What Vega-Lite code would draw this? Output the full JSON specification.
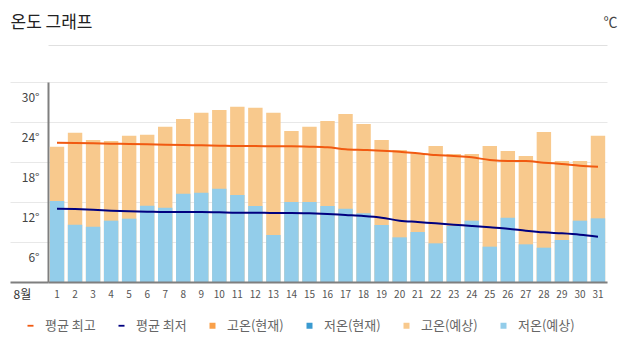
{
  "$schema": "https://vega.github.io/schema/vega-lite/v6.json",
  "width": 559,
  "height": 200,
  "autosize": {"type": "none"},
  "padding": {"left": 48, "top": 82, "right": 22, "bottom": 74},
  "background": "white",
  "config": {"font": "Noto Sans CJK KR", "view": {"stroke": null}},
  "data": {"values": [
    {"day": 1, "high": 20.3, "low": 12.15, "ah": 20.9, "al": 11.0},
    {"day": 2, "high": 22.4, "low": 8.6, "ah": 20.85, "al": 10.95},
    {"day": 3, "high": 21.3, "low": 8.3, "ah": 20.8, "al": 10.85},
    {"day": 4, "high": 21.15, "low": 9.2, "ah": 20.75, "al": 10.7},
    {"day": 5, "high": 21.95, "low": 9.5, "ah": 20.7, "al": 10.6},
    {"day": 6, "high": 22.1, "low": 11.45, "ah": 20.65, "al": 10.55},
    {"day": 7, "high": 23.3, "low": 11.15, "ah": 20.6, "al": 10.5},
    {"day": 8, "high": 24.45, "low": 13.25, "ah": 20.55, "al": 10.5},
    {"day": 9, "high": 25.4, "low": 13.4, "ah": 20.5, "al": 10.5},
    {"day": 10, "high": 25.8, "low": 14.0, "ah": 20.45, "al": 10.45},
    {"day": 11, "high": 26.3, "low": 13.05, "ah": 20.4, "al": 10.4},
    {"day": 12, "high": 26.15, "low": 11.4, "ah": 20.4, "al": 10.4},
    {"day": 13, "high": 25.4, "low": 7.05, "ah": 20.35, "al": 10.35},
    {"day": 14, "high": 22.65, "low": 12.0, "ah": 20.35, "al": 10.35},
    {"day": 15, "high": 23.3, "low": 12.0, "ah": 20.3, "al": 10.3},
    {"day": 16, "high": 24.15, "low": 11.4, "ah": 20.2, "al": 10.2},
    {"day": 17, "high": 25.2, "low": 11.0, "ah": 19.9, "al": 10.05},
    {"day": 18, "high": 23.7, "low": 10.3, "ah": 19.8, "al": 9.9},
    {"day": 19, "high": 21.3, "low": 8.55, "ah": 19.7, "al": 9.65},
    {"day": 20, "high": 19.8, "low": 6.7, "ah": 19.55, "al": 9.2},
    {"day": 21, "high": 19.3, "low": 7.5, "ah": 19.3, "al": 9.0},
    {"day": 22, "high": 20.4, "low": 5.8, "ah": 19.05, "al": 8.8},
    {"day": 23, "high": 19.2, "low": 8.4, "ah": 18.9, "al": 8.6},
    {"day": 24, "high": 19.2, "low": 9.2, "ah": 18.7, "al": 8.4},
    {"day": 25, "high": 20.4, "low": 5.3, "ah": 18.3, "al": 8.2},
    {"day": 26, "high": 19.65, "low": 9.65, "ah": 18.15, "al": 8.0},
    {"day": 27, "high": 18.9, "low": 5.65, "ah": 18.15, "al": 7.7},
    {"day": 28, "high": 22.5, "low": 5.15, "ah": 17.9, "al": 7.45},
    {"day": 29, "high": 18.15, "low": 6.3, "ah": 17.7, "al": 7.3},
    {"day": 30, "high": 18.15, "low": 9.2, "ah": 17.45, "al": 7.1},
    {"day": 31, "high": 21.95, "low": 9.55, "ah": 17.3, "al": 6.8}
  ]},
  "resolve": {"axis": {"x": "independent"}},
  "layer": [
    {
      "mark": {"type": "bar"},
      "encoding": {
        "x": {"field": "day", "type": "ordinal",
          "scale": {"paddingInner": 0.2, "paddingOuter": 0.1},
          "axis": {"title": "8월", "titleX": -35, "titleY": 12, "titleAlign": "left", "titleBaseline": "middle",
            "titleFontSize": 12, "titleFontWeight": "normal", "titleColor": "#333",
            "labelAngle": 0, "labelFontSize": 10, "labelColor": "#555", "labelPadding": 7,
            "ticks": false, "grid": false, "domainColor": "#7f7f7f", "domainWidth": 2, "zindex": 1}},
        "y": {"field": "high", "type": "quantitative",
          "scale": {"domain": [0, 30], "nice": false},
          "axis": {"title": "온도 그래프", "titleAngle": 0, "titleX": -38, "titleY": -60, "titleAlign": "left", "titleBaseline": "middle",
            "titleFontSize": 17, "titleFontWeight": "normal", "titleColor": "#222",
            "values": [0, 6, 12, 18, 24, 30], "tickCount": 20,
            "labelExpr": "datum.value === 0 ? '' : datum.value + '°'",
            "labelOverlap": false, "labelBound": false, "labelFlush": false,
            "labelOffset": 15, "labelPadding": -29, "labelFontSize": 12, "labelColor": "#444",
            "tickSize": 38,
            "tickColor": {"condition": {"test": "datum.value === 0", "value": "#7f7f7f"}, "value": "#e8e8e8"},
            "tickWidth": {"condition": {"test": "datum.value === 0", "value": 2}, "value": 1},
            "grid": true, "gridColor": "#e8e8e8",
            "domainColor": "#7f7f7f", "domainWidth": 2}},
        "color": {"datum": "고온(예상)", "type": "nominal",
          "scale": {"domain": ["평균 최고", "평균 최저", "고온(현재)", "저온(현재)", "고온(예상)", "저온(예상)"],
            "range": ["#f15a11", "#000080", "#f9a04a", "#3a9ad0", "#f8c98d", "#93cdea"]},
          "legend": {"orient": "none", "legendX": -24, "legendY": 237, "direction": "horizontal", "title": null,
            "padding": 0, "columnPadding": 19, "labelFontSize": 13, "labelColor": "#666",
            "symbolSize": 36, "labelOffset": 8, "symbolType": "square", "symbolStrokeWidth": 0,
            "encode": {"symbols": {"update": {"shape": {"signal": "indexof(['평균 최고','평균 최저'], datum.value) >= 0 ? 'M-1,-0.3H1V0.3H-1Z' : 'square'"}}}}}}
      }
    },
    {
      "mark": {"type": "bar"},
      "encoding": {
        "x": {"field": "day", "type": "ordinal", "axis": null},
        "y": {"field": "low", "type": "quantitative"},
        "color": {"datum": "저온(예상)", "type": "nominal"}
      }
    },
    {
      "mark": {"type": "line", "strokeWidth": 2, "interpolate": "monotone"},
      "encoding": {
        "x": {"field": "day", "type": "ordinal",
          "axis": {"orient": "top", "offset": 37, "labels": false, "ticks": false, "grid": false,
            "domainColor": "#e0e0e0", "domainWidth": 1,
            "title": "℃", "titleX": 569, "titleY": -23, "titleAlign": "right", "titleBaseline": "middle",
            "titleFontSize": 14, "titleFontWeight": "normal", "titleColor": "#444", "titleAngle": 0}},
        "y": {"field": "ah", "type": "quantitative"},
        "color": {"datum": "평균 최고", "type": "nominal"}
      }
    },
    {
      "mark": {"type": "line", "strokeWidth": 2, "interpolate": "monotone"},
      "encoding": {
        "x": {"field": "day", "type": "ordinal", "axis": null},
        "y": {"field": "al", "type": "quantitative"},
        "color": {"datum": "평균 최저", "type": "nominal"}
      }
    }
  ]
}
